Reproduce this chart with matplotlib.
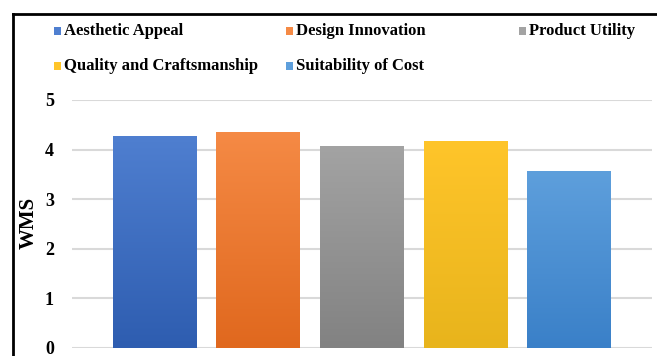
import matplotlib
matplotlib.use("Agg")
import matplotlib.pyplot as plt
import numpy as np
from matplotlib.patches import Rectangle
from matplotlib.colors import LinearSegmentedColormap, to_rgb

categories = ["Aesthetic Appeal", "Design Innovation", "Product Utility",
              "Quality and Craftsmanship", "Suitability of Cost"]
values = [4.28, 4.36, 4.08, 4.18, 3.56]
yticks = [0, 1, 2, 3, 4, 5]
ylabel = "WMS"

top_colors = ["#4F7FD0", "#F58A45", "#A3A3A3", "#FFC52A", "#5E9FDC"]
bot_colors = ["#2E5DB0", "#E0681E", "#828282", "#E8B41C", "#3A80C8"]

W, H = 657, 356
fig = plt.figure(figsize=(W / 100, H / 100), dpi=100)
fig.patch.set_facecolor("white")

serif = ["Liberation Serif", "DejaVu Serif"]

ax = fig.add_axes([72 / W, (H - 348) / H, (652 - 72) / W, (348 - 100) / H])
x = np.arange(len(categories))
bars = ax.bar(x, values, width=0.81, color=top_colors, zorder=2)
ax.set_yticks(yticks)
ax.set_yticklabels([str(t) for t in yticks], fontfamily=serif,
                   fontweight="bold", fontsize=13)
ax.tick_params(axis="y", length=0, pad=13)
ax.set_xticks([])
for s in ax.spines.values():
    s.set_visible(False)
ax.yaxis.grid(True, color="#D9D9D9", linewidth=1.5, zorder=0)
ax.set_axisbelow(True)

# gradient fill on bars
for b, tc, bc in zip(bars, top_colors, bot_colors):
    cmap = LinearSegmentedColormap.from_list("g", [to_rgb(bc), to_rgb(tc)])
    x0, y0 = b.get_x(), b.get_y()
    w, h = b.get_width(), b.get_height()
    grad = np.linspace(0, 1, 256).reshape(-1, 1)
    im = ax.imshow(grad, cmap=cmap, extent=[x0, x0 + w, y0, y0 + h],
                   origin="lower", aspect="auto", zorder=3)
    im.set_clip_path(b)
ax.set_aspect("auto")
ax.set_xlim(-0.8, len(categories) - 0.2)
ax.set_ylim(0, 5)

fig.text(29 / W, 1 - 223 / H, ylabel, rotation=90, ha="center", va="center",
         fontfamily=serif, fontweight="bold", fontsize=15)

# legend laid out as in reference (3 equal columns, 2 rows)
col_x = [57, 289, 522]
row_y = [31, 66]
for i, (lab, c) in enumerate(zip(categories, top_colors)):
    r, cidx = divmod(i, 3)
    mx, my = col_x[cidx], row_y[r]
    fig.add_artist(Rectangle(((mx - 3) / W, 1 - (my + 4) / H), 7 / W, 8 / H,
                             transform=fig.transFigure, facecolor=c,
                             edgecolor="none"))
    fig.text((mx + 7) / W, 1 - my / H, lab, ha="left", va="center",
             fontfamily=serif, fontweight="bold", fontsize=12)

# outer frame (cropped at right/bottom)
fig.add_artist(plt.Line2D([13 / W, 13 / W], [0, 1 - 14 / H], color="black",
                          linewidth=2, transform=fig.transFigure))
fig.add_artist(plt.Line2D([13 / W, 1], [1 - 14 / H, 1 - 14 / H], color="black",
                          linewidth=2, transform=fig.transFigure))

fig.savefig("out.png", dpi=100)
